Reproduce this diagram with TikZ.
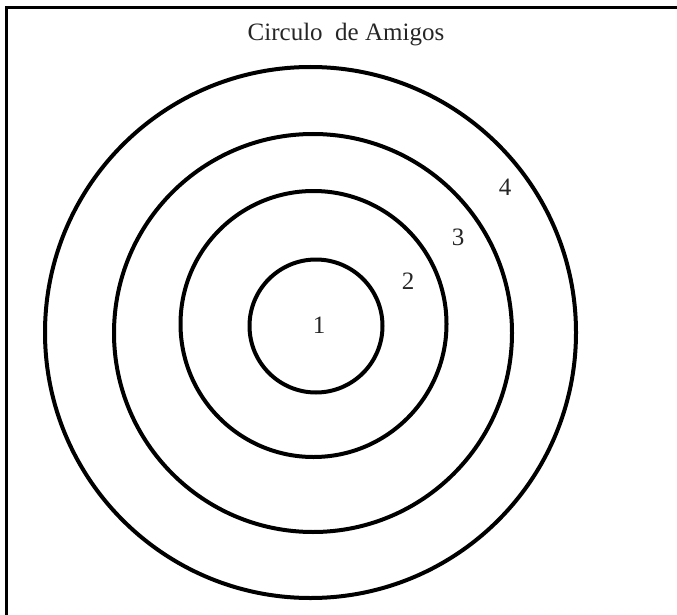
\documentclass[tikz,border=0pt]{standalone}
\usepackage{fontspec}
\setmainfont{Liberation Serif}
\begin{document}
\begin{tikzpicture}[x=1pt,y=-1pt,
  ring/.style={draw=black,line width=4pt},
  lbl/.style={font=\fontsize{25}{30}\selectfont,inner sep=0pt,text=black!85},
  frame/.style={draw=black,line width=3pt}]
\useasboundingbox (0,0) rectangle (677,615);
\coordinate (tl) at (6,8);
\coordinate (tr) at (677,8);
\coordinate (bl) at (6,615);
\draw[frame] (tr) -- (tl) -- (bl);
\draw[ring] (310.5,332.5) circle (265.5);
\draw[ring] (313,333) circle (199);
\draw[ring] (313.5,324) circle (133);
\draw[ring] (316,326) circle (66.5);
\node[lbl] (title) at (346,35) {Circulo\ \ de Amigos};
\node[lbl] (n1) at (319,325) {1};
\node[lbl] (n2) at (408,281) {2};
\node[lbl] (n3) at (458,237) {3};
\node[lbl] (n4) at (505,187) {4};
\end{tikzpicture}
\end{document}
